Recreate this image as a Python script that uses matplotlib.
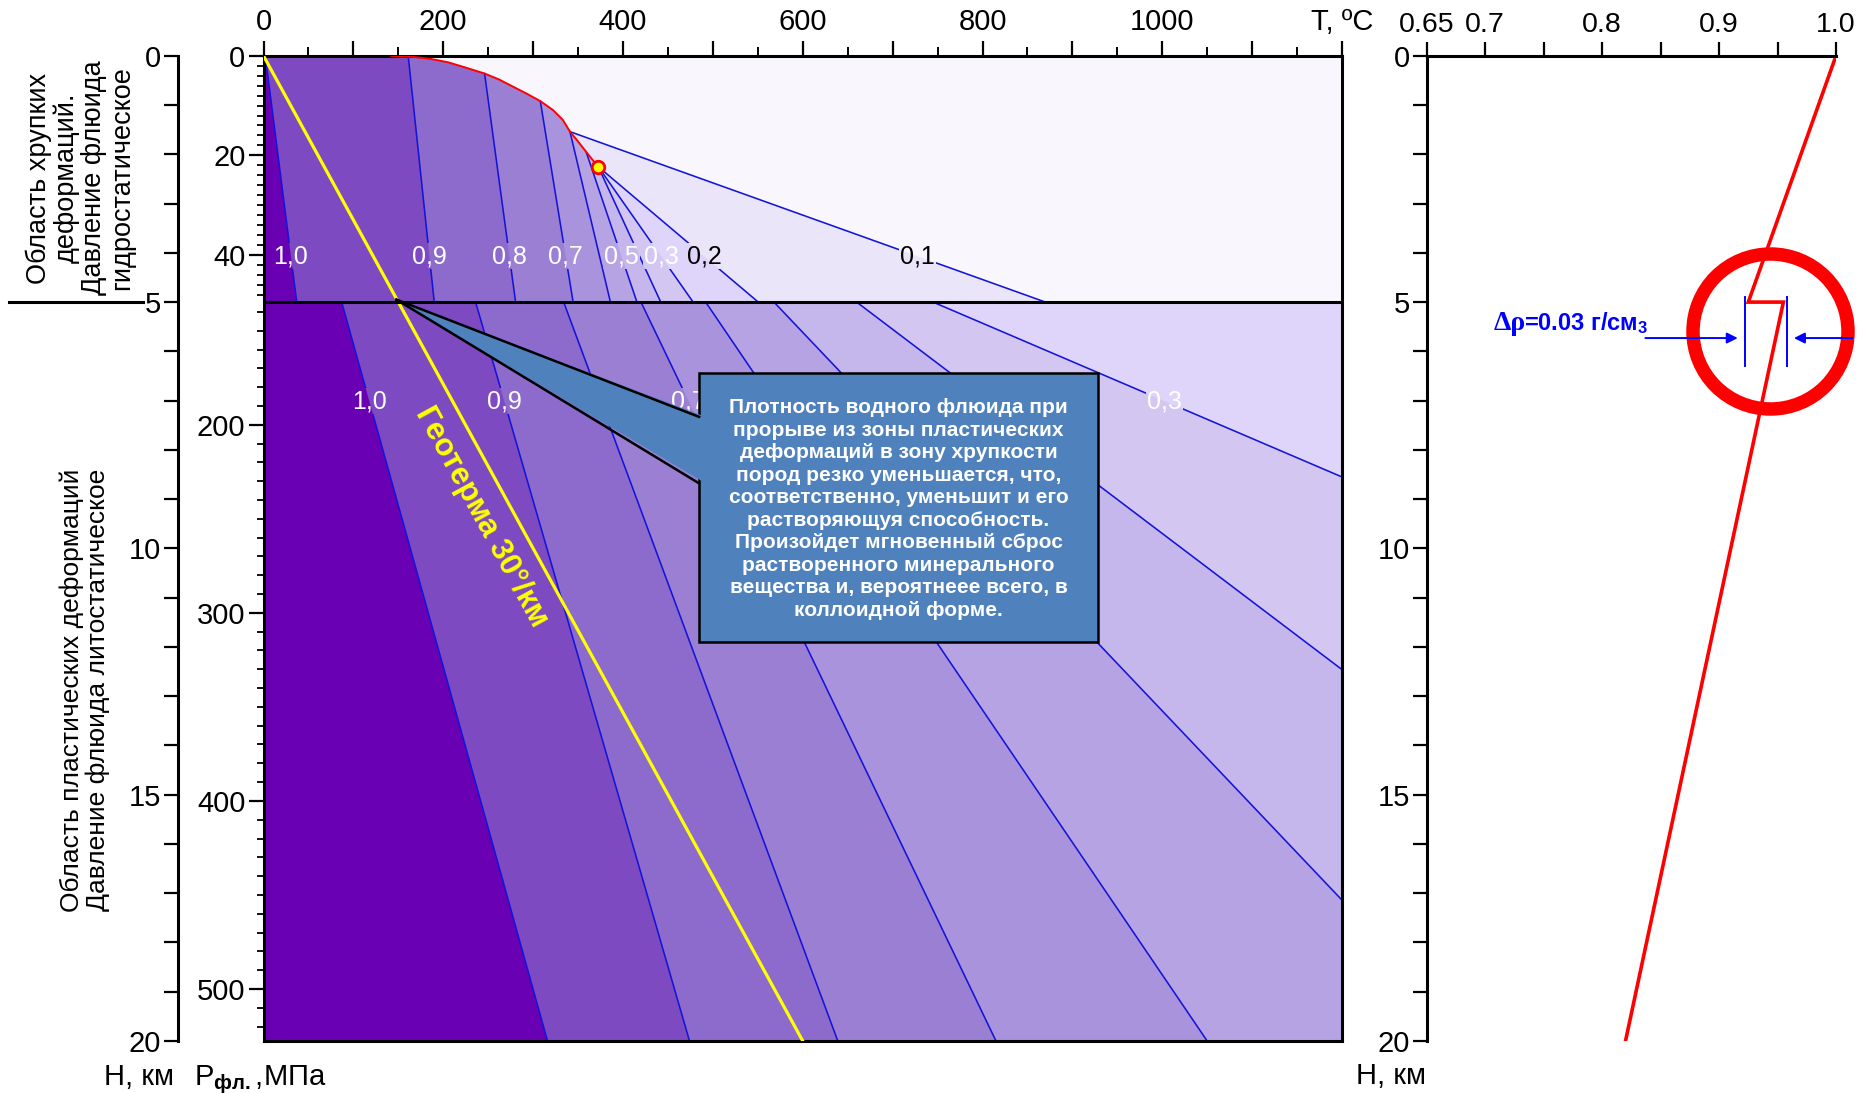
"""Water density isochores vs depth: brittle/plastic zone fluid density jump."""

import numpy as np
import matplotlib

matplotlib.use("Agg")
import matplotlib.pyplot as plt
from matplotlib.patches import Polygon, Rectangle
from matplotlib.transforms import IdentityTransform, blended_transform_factory

plt.rcParams["font.family"] = ["Liberation Sans", "DejaVu Sans"]
plt.rcParams["mathtext.fontset"] = "custom"
plt.rcParams["mathtext.rm"] = "Liberation Sans"
plt.rcParams["mathtext.bf"] = "Liberation Sans:bold"
plt.rcParams["mathtext.default"] = "regular"

# ---------------------------------------------------------------- data
# saturation (boiling) curve up to the critical point; T in degC, H in km
SAT_T = [142, 165, 185, 205, 225, 246, 262, 278, 294, 308, 322, 333, 341, 350, 359, 366, 372.4]
SAT_H = [0.0, 0.02, 0.06, 0.13, 0.24, 0.36, 0.48, 0.63, 0.78, 0.92, 1.1, 1.3,
         1.54, 1.74, 1.95, 2.11, 2.25]

# isochores, brittle zone (hydrostatic pressure), 0-5 km
UP_RHO = [1.0, 0.9, 0.8, 0.7, 0.6, 0.5, 0.4, 0.3, 0.2, 0.1]
UP_T_START = [2, 161, 246, 308, 341, 359, 372.4, 372.4, 372.4, 341]
UP_H_START = [0, 0, 0.36, 0.92, 1.54, 1.95, 2.25, 2.25, 2.25, 1.54]
UP_T_5KM = [37, 190, 280.5, 344.5, 386, 415.5, 442, 478, 550.5, 870]
UP_LABELED = [1.0, 0.9, 0.8, 0.7, 0.5, 0.3, 0.2, 0.1]

# isochores, plastic zone (lithostatic pressure), 5-20 km
LOW_RHO = [1.0, 0.9, 0.8, 0.7, 0.6, 0.5, 0.4, 0.3]
LOW_T_5KM = [87, 236, 334, 420, 492, 568, 660, 745]
LOW_T_END = [316, 474, 639, 815, 1050, 1200, 1200, 1200]
LOW_H_END = [20, 20, 20, 20, 20, 17.14, 12.46, 8.55]
LOW_LABELED = [1.0, 0.9, 0.7, 0.3]

# geotherm 30 deg/km
GEO_T = [0, 600]
GEO_H = [0, 20]

# fluid density along the geotherm (right panel)
PROFILE_RHO = [1.0, 0.925, 0.955, 0.82]
PROFILE_H = [0, 5, 5, 20]

# pressure scale on the depth axis, MPa
HYDRO_GRADIENT = 9.9      # MPa per km
LITHO_GRADIENT = 26.2     # MPa per km
LITHO_OFFSET = 3.7        # MPa
P_LABELS_UP = [0, 20, 40]
P_LABELS_LOW = [200, 300, 400, 500]

T_TICKS = list(range(0, 1201, 100))
T_LABELS = ["0", "", "200", "", "400", "", "600", "", "800", "", "1000", "", "T, ºC"]
RHO_TICKS = [0.65, 0.7, 0.75, 0.8, 0.85, 0.9, 0.95, 1.0]
RHO_LABELS = ["0.65", "0.7", "", "0.8", "", "0.9", "", "1.0"]
H_TICKS = [0, 5, 10, 15, 20]

BOX_TEXT = (
    "Плотность водного флюида при\n"
    "прорыве из зоны пластических\n"
    "деформаций в зону хрупкости\n"
    "пород резко уменьшается, что,\n"
    "соответственно, уменьшит и его\n"
    "растворяющуя способность.\n"
    "Произойдет мгновенный сброс\n"
    "растворенного минерального\n"
    "вещества и, вероятнеее всего, в\n"
    "коллоидной форме."
)

# ---------------------------------------------------------------- style
BAND = {
    1.0: "#6a00b4", 0.9: "#7d4ac2", 0.8: "#8c6bcc", 0.7: "#9a7fd3",
    0.6: "#a893dc", 0.5: "#b6a3e3", 0.4: "#c5b7eb", 0.3: "#d3c7f2",
    0.2: "#dfd5fa", 0.1: "#ebe5f9",
}
VAPOUR_COLOR = "#f9f6fd"
ISO_COLOR = "#1414d8"
W, H = 1861, 1093


def depth_hydro(p):
    return np.asarray(p, float) / HYDRO_GRADIENT


def depth_litho(p):
    return (np.asarray(p, float) - LITHO_OFFSET) / LITHO_GRADIENT


def rho_label(r):
    return f"{r:.1f}".replace(".", ",")


def style_depth_axis(a):
    a.set_ylim(20, 0)
    a.set_yticks(H_TICKS)
    a.set_yticks(range(21), minor=True)
    a.tick_params(axis="y", which="both", length=10, width=1.6,
                  labelsize=21, pad=2)
    for s in ("right", "bottom"):
        a.spines[s].set_visible(False)
    a.spines["left"].set_linewidth(2.2)


fig = plt.figure(figsize=(W / 100, H / 100), dpi=100)
bottom, height = (H - 1041) / H, (1041 - 55.8) / H

# ---- outer depth axis
ax_h = fig.add_axes([177.7 / W, bottom, (263.5 - 177.7) / W, height])
style_depth_axis(ax_h)
ax_h.spines["top"].set_visible(False)
ax_h.set_xticks([])
ax_h.patch.set_visible(False)
ax_h.plot([-1.966, -0.404], [5, 5], color="black", lw=2.2, clip_on=False,
          transform=blended_transform_factory(ax_h.transAxes, ax_h.transData))

# ---- main T-H panel
ax = fig.add_axes([263.5 / W, bottom, (1342 - 263.5) / W, height])
ax.set_xlim(0, 1200)
ax.set_ylim(20, 0)
ax.set_facecolor(VAPOUR_COLOR)

fills = [([(0, 5), (1200, 5), (1200, 20), (0, 20)], BAND[0.2])]
for rho, t0, h0, t5 in reversed(list(zip(UP_RHO, UP_T_START, UP_H_START, UP_T_5KM))):
    cap = [(t, h) for t, h in zip(SAT_T, SAT_H) if t < t0]
    fills.append(([(0, 0)] + cap + [(t0, h0), (t5, 5), (0, 5)], BAND[rho]))
for rho, t5, te, he in reversed(list(zip(LOW_RHO, LOW_T_5KM, LOW_T_END, LOW_H_END))):
    fills.append(([(0, 5), (t5, 5), (te, he), (te, 20), (0, 20)], BAND[rho]))
for verts, color in fills:
    ax.add_patch(Polygon(verts, closed=True, facecolor=color, edgecolor="none", zorder=1))

for t0, h0, t5 in zip(UP_T_START, UP_H_START, UP_T_5KM):
    ax.plot([t0, t5], [h0, 5], color=ISO_COLOR, lw=1.15, zorder=2)
for t5, te, he in zip(LOW_T_5KM, LOW_T_END, LOW_H_END):
    ax.plot([t5, te], [5, he], color=ISO_COLOR, lw=1.15, zorder=2)
ax.plot(SAT_T, SAT_H, color="red", lw=1.4, zorder=2.8)

labels = []
for rho, t0, h0, t5 in zip(UP_RHO, UP_T_START, UP_H_START, UP_T_5KM):
    if rho in UP_LABELED:
        hl = 4.07
        tl = t0 + (t5 - t0) * (hl - h0) / (5 - h0)
        col = "black" if rho < 0.25 else "white"
        labels.append(ax.text(tl, hl, rho_label(rho), color=col, fontsize=18,
                              ha="center", va="center", zorder=3))
for rho, t5, te, he in zip(LOW_RHO, LOW_T_5KM, LOW_T_END, LOW_H_END):
    if rho in LOW_LABELED:
        hl = 7.01
        tl = t5 + (te - t5) * (hl - 5) / (he - 5)
        labels.append(ax.text(tl, hl, rho_label(rho), color="white", fontsize=18,
                              ha="center", va="center", zorder=3))

ax.plot(GEO_T, GEO_H, color="#ffff00", lw=2.3, zorder=3)
ax.axhline(5, color="black", lw=2.2, zorder=3.5)
ax.plot(SAT_T[-1], SAT_H[-1], "o", ms=9, mfc="yellow", mec="red", mew=2, zorder=4)

# axis ticks: temperature on top, fluid pressure on the left spine
ax.xaxis.tick_top()
ax.set_xticks(T_TICKS, labels=T_LABELS)
ax.set_xticks(range(50, 1200, 100), minor=True)
ax.tick_params(axis="x", which="major", length=11, width=1.6, labelsize=21, pad=3)
ax.tick_params(axis="x", which="minor", length=6.5, width=1.4)
p_major = list(depth_hydro(P_LABELS_UP)) + list(depth_litho(P_LABELS_LOW))
ax.set_yticks(p_major, labels=[str(p) for p in P_LABELS_UP + P_LABELS_LOW])
p_minor = list(depth_hydro(np.arange(2, 49, 2))) + list(depth_litho(np.arange(140, 521, 10)))
ax.set_yticks(p_minor, minor=True)
ax.tick_params(axis="y", which="major", length=11, width=1.6, labelsize=21, pad=2)
ax.tick_params(axis="y", which="minor", length=5, width=1.3)
for s in ax.spines.values():
    s.set_linewidth(2.2)

# geotherm label along the line
p1, p2 = ax.transData.transform([(GEO_T[0], GEO_H[0]), (GEO_T[1], GEO_H[1])])
angle = np.degrees(np.arctan2(p2[1] - p1[1], p2[0] - p1[0]))
ax.text(241.9, 9.35, "Геотерма 30°/км", color="#ffff00", fontsize=22.5,
        fontweight="bold", rotation=angle, rotation_mode="anchor",
        ha="center", va="center", zorder=4)

# callout box
box_color = "#4f81bd"
ax.add_patch(Rectangle((484.7, 6.43), 928.5 - 484.7, 11.91 - 6.43, facecolor=box_color,
                       edgecolor="black", lw=1.8, zorder=5))
ax.add_patch(Polygon([(148, 4.95), (492, 7.33), (492, 8.68)], closed=True,
                     facecolor=box_color, edgecolor="none", zorder=5.1))
ax.plot([148, 484.7], [4.95, 7.33], color="black", lw=1.8, zorder=5.2)
ax.plot([148, 484.7], [4.95, 8.68], color="black", lw=1.8, zorder=5.2)
ax.text(706.6, 9.2, BOX_TEXT, color="white", fontsize=15, fontweight="bold",
        ha="center", va="center", linespacing=1.23, zorder=6)

# ---- right panel: density along the geotherm
ax_r = fig.add_axes([1426.7 / W, bottom, (1836 - 1426.7) / W, height])
style_depth_axis(ax_r)
ax_r.set_xlim(0.65, 1.0)
ax_r.xaxis.tick_top()
ax_r.set_xticks(RHO_TICKS, labels=RHO_LABELS)
ax_r.tick_params(axis="x", length=10, width=1.6, labelsize=20.5, pad=3)
ax_r.spines["top"].set_linewidth(2.2)
ax_r.plot(PROFILE_RHO, PROFILE_H, color="red", lw=2.6, solid_joinstyle="miter")
ax_r.plot([0.9432], [5.59], "o", ms=111.6, mfc="none", mec="red", mew=9.7, clip_on=False)
for xr in (0.922, 0.958):
    ax_r.plot([xr, xr], [4.9, 6.3], color="blue", lw=1.4)
arrow = dict(arrowstyle="-|>", color="blue", lw=1.4, mutation_scale=16, shrinkA=0, shrinkB=0)
ax_r.annotate("", xy=(0.916, 5.73), xytext=(0.837, 5.73), arrowprops=arrow,
              annotation_clip=False)
ax_r.annotate("", xy=(0.964, 5.73), xytext=(1.014, 5.73), arrowprops=arrow,
              annotation_clip=False)
ax_r.text(0.7076, 5.56, "Δρ", color="blue", fontsize=20, fontweight="bold",
          family=["Liberation Serif", "DejaVu Serif"], va="baseline")
ax_r.annotate("=0.03 г/см$_3$", xy=(0.7076, 5.56), xytext=(21.5, 0),
              textcoords="offset points", color="blue", fontsize=17,
              fontweight="bold", va="baseline")

# ---- side and bottom captions
fig.text(80 / W, 1 - 178 / H,
         "Область хрупких\nдеформаций.\nДавление флюида\nгидростатическое",
         rotation=90, ha="center", va="center", multialignment="center",
         fontsize=19.5, linespacing=1.08)
fig.text(84.5 / W, 1 - 690 / H,
         "Область пластических деформаций\nДавление флюида литостатическое",
         rotation=90, ha="center", va="center", multialignment="center",
         fontsize=19, linespacing=1.1)
fig.text(174 / W, 1 - 1085 / H, "H, км", ha="right", va="baseline", fontsize=21)
fig.text(194 / W, 1 - 1085 / H, r"P$_{\mathbf{фл.}}$,МПа", ha="left",
         va="baseline", fontsize=21)
fig.text(1426 / W, 1 - 1084 / H, "H, км", ha="right", va="baseline", fontsize=21)

# hide isochores behind their labels by repainting the bands there
fig.canvas.draw()
for txt in labels:
    bb = txt.get_window_extent().padded(1)
    clip = Rectangle((bb.x0, bb.y0), bb.width, bb.height, transform=IdentityTransform())
    base = Rectangle((0, 0), 1200, 5, facecolor=VAPOUR_COLOR, edgecolor="none", zorder=2.5)
    ax.add_patch(base)
    base.set_clip_path(clip)
    for verts, color in fills:
        p = Polygon(verts, closed=True, facecolor=color, edgecolor="none", zorder=2.5)
        ax.add_patch(p)
        p.set_clip_path(clip)

fig.savefig("out.png", dpi=100)
